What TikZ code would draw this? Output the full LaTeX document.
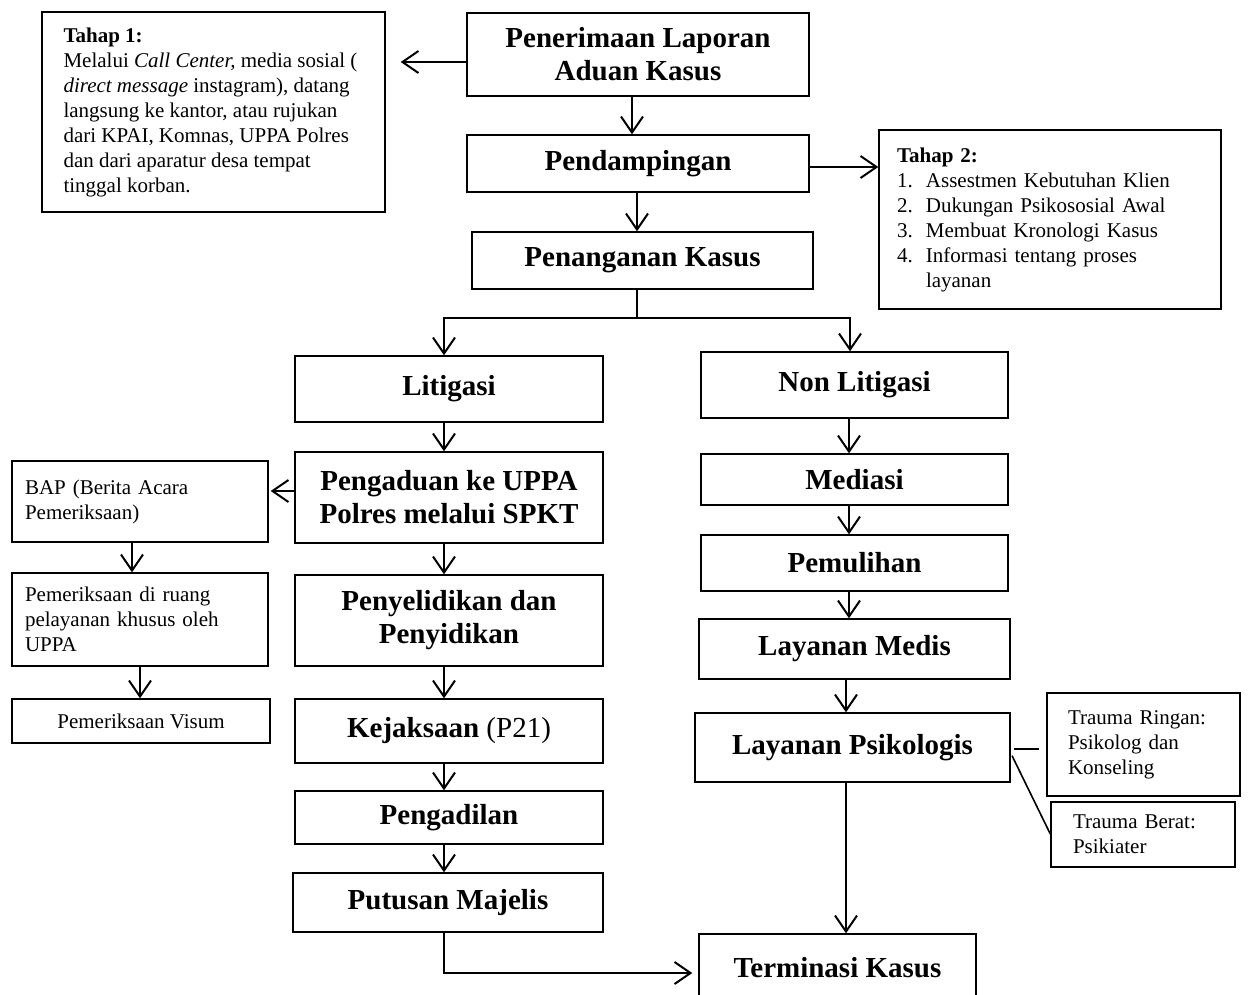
\documentclass[tikz,border=0pt]{standalone}
\usepackage{fontspec}
\setmainfont{Liberation Serif}
\usetikzlibrary{arrows.meta}
\newcommand\myBig{\fontsize{29}{33}\selectfont\bfseries}
\newcommand\mySmall{\fontsize{21}{25}\selectfont}
\tikzset{
  box/.style={draw, line width=1.4pt, inner sep=0pt, align=center, font=\myBig},
  sbox/.style={draw, line width=1.4pt, inner ysep=0pt, align=left, font=\mySmall},
  conn/.style={line width=2pt},
  arr/.style={conn, -{Straight Barb[length=16pt,width=22pt,line width=2pt]}},
}
\begin{document}
\begin{tikzpicture}[x=1pt,y=-1pt]
\clip (0,0) rectangle (1248,994);
% top column
\node[sbox, inner xsep=0pt, minimum width=343pt, minimum height=200pt] (t1) at (213.5,112)
 {\hspace*{-6pt}\textbf{Tahap 1:}\\
  \hspace*{-6pt}Melalui \textit{Call Center,} media sosial (\\
  \hspace*{-6pt}\textit{direct message} instagram), datang\\
  \hspace*{-6pt}langsung ke kantor, atau rujukan\\
  \hspace*{-6pt}dari KPAI, Komnas, UPPA Polres\\
  \hspace*{-6pt}dan dari aparatur desa tempat\\
  \hspace*{-6pt}tinggal korban.};
\node[box, minimum width=342pt, minimum height=83pt] (pen) at (638,54.5) {Penerimaan Laporan\\Aduan Kasus};
\node[box, minimum width=342pt, minimum height=57pt] (pend) at (638,163.5) {Pendampingan};
\node[box, minimum width=341pt, minimum height=57pt] (penang) at (642.5,260.5) {Penanganan Kasus};
\node[sbox, text width=306pt, inner xsep=18pt, minimum height=179pt] (t2) at (1050,219.5)
 {\textbf{Tahap 2:}\\
  \makebox[29pt][l]{1.}Assestmen Kebutuhan Klien\\
  \makebox[29pt][l]{2.}Dukungan Psikososial Awal\\
  \makebox[29pt][l]{3.}Membuat Kronologi Kasus\\
  \makebox[29pt][l]{4.}Informasi tentang proses\\
  \hspace*{29pt}layanan};
% litigasi column
\node[box, minimum width=308pt, minimum height=66pt] (lit) at (449,389) {Litigasi};
\node[box, minimum width=308pt, minimum height=91pt] (peng) at (449,497.5) {Pengaduan ke UPPA\\Polres melalui SPKT};
\node[box, minimum width=308pt, minimum height=91pt] (penye) at (449,620.5) {Penyelidikan dan\\Penyidikan};
\node[box, minimum width=308pt, minimum height=64pt] (kej) at (449,731) {Kejaksaan \mdseries(P21)};
\node[box, minimum width=308pt, minimum height=53pt] (pengad) at (449,817.5) {Pengadilan};
\node[box, minimum width=310pt, minimum height=59pt] (put) at (448,902.5) {Putusan Majelis};
% left column
\node[sbox, text width=230pt, inner xsep=13pt, minimum height=81pt] (bap) at (140,501.5)
 {BAP (Berita Acara\\Pemeriksaan)};
\node[sbox, text width=230pt, inner xsep=13pt, minimum height=93pt] (pem) at (140,619.5)
 {Pemeriksaan di ruang\\pelayanan khusus oleh\\UPPA};
\node[sbox, align=center, inner xsep=0pt, minimum width=258pt, minimum height=44pt] (vis) at (141,721)
 {Pemeriksaan Visum};
% non litigasi column
\node[box, minimum width=307pt, minimum height=66pt] (nonlit) at (854.5,385) {Non Litigasi};
\node[box, minimum width=307pt, minimum height=51pt] (med) at (854.5,479.5) {Mediasi};
\node[box, minimum width=307pt, minimum height=56pt] (pemul) at (854.5,563) {Pemulihan};
\node[box, minimum width=311pt, minimum height=60pt] (medis) at (854.5,649) {Layanan Medis};
\node[box, minimum width=315pt, minimum height=69pt] (psiko) at (852.5,747.5) {Layanan Psikologis};
\node[box, minimum width=277pt, minimum height=68pt] (term) at (837.5,968) {Terminasi Kasus};
% trauma boxes
\node[sbox, text width=151pt, inner xsep=21pt, minimum height=103pt] (tr) at (1143.5,744.5)
 {Trauma Ringan:\\Psikolog dan\\Konseling};
\node[sbox, text width=140pt, inner xsep=22pt, minimum height=65pt] (tb) at (1143,834.5)
 {Trauma Berat:\\Psikiater};
% connectors
\draw[arr, shorten >=15pt] (pen.west |- 0,62) -- (t1.east |- 0,62);
\draw[arr] (pen.south -| 632,0) -- (pend.north -| 632,0);
\draw[arr] (pend.east |- 0,167) -- (t2.west |- 0,167);
\draw[arr] (pend.south -| 637,0) -- (penang.north -| 637,0);
\coordinate (split) at (637,318);
\draw[conn] (penang.south -| split) -- (split);
\draw[arr] (split) -| (lit.north -| 444,0);
\draw[arr] (split) -| (nonlit.north -| 850,0);
\draw[arr] (lit.south -| 444,0) -- (peng.north -| 444,0);
\draw[arr] (peng.south -| 444,0) -- (penye.north -| 444,0);
\draw[arr] (penye.south -| 444,0) -- (kej.north -| 444,0);
\draw[arr] (kej.south -| 444,0) -- (pengad.north -| 444,0);
\draw[arr] (pengad.south -| 444,0) -- (put.north -| 444,0);
\draw[arr, shorten >=6pt] (put.south -| 444,0) |- (term.west |- 0,973);
\draw[arr, shorten >=2pt] (peng.west |- 0,491) -- (bap.east |- 0,491);
\draw[arr] (bap.south -| 132,0) -- (pem.north -| 132,0);
\draw[arr] (pem.south -| 140,0) -- (vis.north -| 140,0);
\draw[arr] (nonlit.south -| 849,0) -- (med.north -| 849,0);
\draw[arr] (med.south -| 849,0) -- (pemul.north -| 849,0);
\draw[arr] (pemul.south -| 849,0) -- (medis.north -| 849,0);
\draw[arr] (medis.south -| 846,0) -- (psiko.north -| 846,0);
\draw[arr] (psiko.south -| 846,0) -- (term.north -| 846,0);
\draw[conn, shorten <=3pt, shorten >=7pt] (psiko.east |- 0,749) -- (tr.west |- 0,749);
\draw[line width=1.6pt, shorten <=3pt] (psiko.east |- 0,753) -- (tb.west |- 0,834);
\end{tikzpicture}
\end{document}
